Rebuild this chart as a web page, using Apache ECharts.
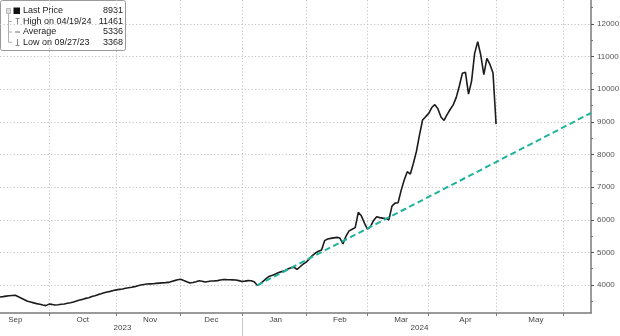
<!DOCTYPE html>
<html><head><meta charset="utf-8">
<script src="https://cdn.jsdelivr.net/npm/echarts@6/dist/echarts.min.js"></script>
<style>html,body{margin:0;padding:0;background:#fff}#c{width:620px;height:336px}</style>
</head><body><div id="c"></div><script>
// ---- data ----
const axisStart = '2023-09-08';
const axisEnd = '2024-06-14';
const holidays = ['2023-11-23','2023-12-25','2024-01-01','2024-01-15','2024-02-19','2024-03-29','2024-05-27'];
const price = [
3632,3645,3660,3672,3680,3684,3640,3595,3550,3505,
3480,3452,3430,3410,3385,3368,3415,3405,3387,3395,
3410,3420,3439,3455,3480,3510,3538,3560,3590,3612,
3650,3670,3705,3730,3760,3785,3805,3831,3850,3865,
3880,3900,3915,3930,3950,3980,4000,4018,4031,4036,
4040,4050,4058,4065,4072,4080,4110,4135,4160,4175,
4135,4100,4061,4075,4100,4130,4115,4092,4110,4125,
4128,4135,4155,4169,4165,4163,4158,4153,4135,4110,
4120,4135,4130,4100,3990,4040,4120,4200,4270,4300,
4340,4380,4410,4440,4490,4530,4545,4481,4560,4640,
4700,4800,4900,4980,5035,5073,5360,5410,5430,5445,
5460,5440,5260,5500,5660,5710,5760,6227,6120,5900,
5716,5790,5980,6090,6065,6050,6040,6000,6420,6510,
6523,6900,7220,7473,7400,7730,8100,8600,9057,9160,
9260,9440,9530,9400,9150,9045,9220,9380,9520,9750,
10100,10489,10520,9850,10250,11100,11461,11050,10450,10948,
10760,10500,8931
];
const trendDates = ['2024-01-09','2024-06-14'];
const trendValues = [3990, 9272];
const monthLabelDates = ['2023-09-15','2023-10-17','2023-11-16','2023-12-15','2024-01-18','2024-02-16','2024-03-18','2024-04-17','2024-05-20'];
const monthNames = ['Jan','Feb','Mar','Apr','May','Jun','Jul','Aug','Sep','Oct','Nov','Dec'];
const yearLabelDates = ['2023-11-03','2024-03-26'];
const yearDividerDates = ['2024-01-02'];
const yMinorTicks = [3500,4500,5500,6500,7500,8500,9500,10500,11500,12500];
const legendNames = ['Last Price','High on 04/19/24','Average','Low on 09/27/23'];
const legendValues = ['8931','11461','5336','3368'];

// ---- trading-day categories ----
function fmt(d){return d.toISOString().slice(0,10);}
const cats = [];
for (let d = new Date(axisStart+'T00:00:00Z'); fmt(d) <= axisEnd; d.setUTCDate(d.getUTCDate()+1)) {
  const wd = d.getUTCDay();
  const s = fmt(d);
  if (wd === 0 || wd === 6 || holidays.includes(s)) continue;
  cats.push(s);
}
const boundary = new Set();
for (let i = 1; i < cats.length; i++) if (cats[i].slice(5,7) !== cats[i-1].slice(5,7)) boundary.add(i);
const monthLabelIdx = new Set(monthLabelDates.map(d => cats.indexOf(d)));
const yearLabelIdx = new Set(yearLabelDates.map(d => cats.indexOf(d)));
const yearDivIdx = new Set(yearDividerDates.map(d => cats.indexOf(d)));

const FONT = 'Liberation Sans, Arial, sans-serif';
const dotted = {color:'#c4c4c4', width:1, type:[1.2,2.2]};

const chart = echarts.init(document.getElementById('c'), null, {renderer:'canvas'});

// legend graphic
const rowY = [12, 22.5, 33, 43.3];
const lg = [
  {type:'rect', shape:{x:2.5,y:1.5,width:125,height:50,r:2}, style:{fill:'#fff',stroke:'#9a9a9a',lineWidth:1}},
  {type:'rect', shape:{x:8.5,y:9.5,width:4,height:5}, style:{fill:'#ddd',stroke:'#aaa',lineWidth:0.8}},
  {type:'rect', shape:{x:15.5,y:8.5,width:6.5,height:6.5}, style:{fill:'#111'}},
  {type:'polyline', shape:{points:[[10.5,15],[10.5,43.3],[14,43.3]]}, style:{stroke:'#b0b0b0',lineWidth:1,fill:null}},
  {type:'line', shape:{x1:10.5,y1:33,x2:14,y2:33}, style:{stroke:'#b0b0b0',lineWidth:1}},
  {type:'line', shape:{x1:10.5,y1:22.5,x2:14,y2:22.5}, style:{stroke:'#b0b0b0',lineWidth:1}},
  {type:'line', shape:{x1:17.5,y1:19.5,x2:21.5,y2:19.5}, style:{stroke:'#888',lineWidth:1}},
  {type:'line', shape:{x1:19.5,y1:19.5,x2:19.5,y2:26}, style:{stroke:'#888',lineWidth:1}},
  {type:'line', shape:{x1:17,y1:33,x2:22,y2:33}, style:{stroke:'#888',lineWidth:1.2}},
  {type:'line', shape:{x1:19.5,y1:40,x2:19.5,y2:46.5}, style:{stroke:'#888',lineWidth:1}},
  {type:'line', shape:{x1:17.5,y1:46.5,x2:21.5,y2:46.5}, style:{stroke:'#888',lineWidth:1}}
];
legendNames.forEach((n,i) => {
  lg.push({type:'text', x:25, y:rowY[i], style:{text:n, fill:'#222', font:'9px '+FONT, textVerticalAlign:'middle', textAlign:'left'}});
  lg.push({type:'text', x:125, y:rowY[i], style:{text:legendValues[i], fill:'#222', font:'9px '+FONT, textVerticalAlign:'middle', textAlign:'right'}});
});

chart.setOption({
  animation:false,
  backgroundColor:'#fff',
  textStyle:{fontFamily:FONT},
  grid:{left:0, right:29, top:0, bottom:23, containLabel:false, outerBoundsMode:'none'},
  xAxis:[{
    type:'category', data:cats, boundaryGap:false,
    axisLine:{show:true, lineStyle:{color:'#7a7a7a', width:1.5}},
    axisTick:{show:true, interval:(i)=>boundary.has(i), length:3, lineStyle:{color:'#7a7a7a'}},
    axisLabel:{show:true, interval:(i)=>monthLabelIdx.has(i), formatter:(v)=>monthNames[+v.slice(5,7)-1], fontSize:8, color:'#444', margin:3, fontFamily:FONT},
    splitLine:{show:true, interval:(i)=>boundary.has(i), lineStyle:dotted}
  },{
    type:'category', data:cats, boundaryGap:false, position:'bottom', offset:5,
    axisLine:{show:false},
    axisTick:{show:true, interval:(i)=>yearDivIdx.has(i), length:18, lineStyle:{color:'#c8c8c8'}},
    axisLabel:{show:true, interval:(i)=>yearLabelIdx.has(i), formatter:(v)=>v.slice(0,4), fontSize:8, color:'#444', margin:6, fontFamily:FONT},
    splitLine:{show:false}
  }],
  yAxis:[{
    type:'value', position:'right', min:3142, max:12736, splitNumber:10, scale:true,
    axisLine:{show:true, lineStyle:{color:'#7a7a7a', width:1.5}},
    axisTick:{show:true, inside:false, length:3, lineStyle:{color:'#555'}},
    axisLabel:{show:true, showMinLabel:false, showMaxLabel:false, formatter:(v)=>String(Math.round(v)), fontSize:8, color:'#555', margin:6, fontFamily:FONT},
    splitLine:{show:true, showMinLine:false, showMaxLine:false, lineStyle:dotted}
  },{
    type:'value', position:'right', min:3142, max:12736, splitNumber:10, scale:true,
    axisLine:{show:false},
    axisTick:{show:true, customValues:yMinorTicks, length:2, lineStyle:{color:'#777'}},
    axisLabel:{show:false},
    splitLine:{show:false}
  }],
  series:[{
    type:'line', data:price, xAxisIndex:0, yAxisIndex:0, showSymbol:false, symbol:'none',
    lineStyle:{color:'#1c1c1c', width:1.6}, z:3
  },{
    type:'line', data:trendDates.map((d,i)=>[d, trendValues[i]]), xAxisIndex:0, yAxisIndex:0,
    showSymbol:false, symbol:'none', lineStyle:{color:'#1fb39c', width:2, type:[6,3.5]}, z:4
  }],
  graphic:[{type:'group', left:0, top:0, z:100, children:lg}]
});
</script></body></html>
